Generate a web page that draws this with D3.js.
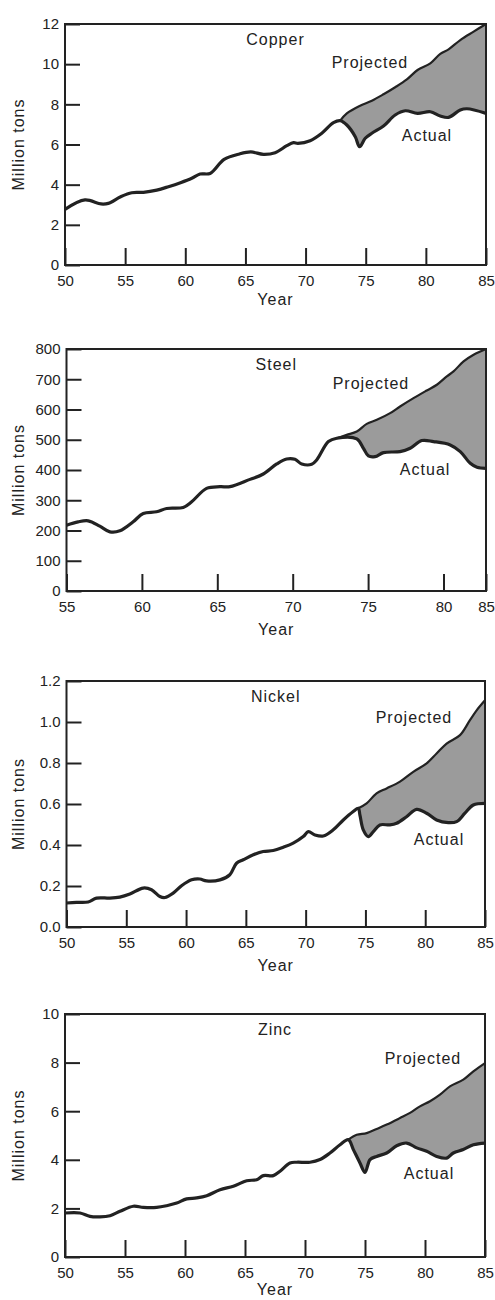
<!DOCTYPE html>
<html>
<head>
<meta charset="utf-8">
<script src="https://cdn.jsdelivr.net/npm/d3@7/dist/d3.min.js"></script>
<style>
  body { margin: 0; background: #fff; }
  svg text { font-family: "Liberation Sans", Arial, Helvetica, sans-serif; fill: #222; }
</style>
</head>
<body>
<svg id="chart" width="495" height="1300"></svg>
<script>
// [year, million tons]
var copperActual = [[50.0,2.77],[51.66,3.24],[53.0,3.04],[53.6,3.07],[54.63,3.40],[55.55,3.60],[56.52,3.62],[57.63,3.73],[58.6,3.90],[59.6,4.10],[60.54,4.32],[61.23,4.53],[62.06,4.56],[63.23,5.26],[64.5,5.53],[65.45,5.63],[66.5,5.51],[67.47,5.59],[68.44,5.94],[69.0,6.09],[69.36,6.06],[70.38,6.19],[71.35,6.56],[72.32,7.09],[72.88,7.19],[73.43,6.97],[74.13,6.39],[74.49,5.89],[74.96,6.31],[75.51,6.56],[76.48,6.92],[77.45,7.47],[78.29,7.68],[79.31,7.55],[80.37,7.63],[81.2,7.42],[81.89,7.35],[82.86,7.72],[83.42,7.78],[85.0,7.55]];
var copperProjected = [[72.88,7.19],[73.43,7.55],[74.49,7.92],[75.51,8.18],[76.48,8.50],[77.45,8.85],[78.42,9.24],[79.31,9.71],[80.37,10.04],[81.2,10.51],[81.89,10.74],[82.86,11.20],[83.97,11.62],[85.0,12.0]];

var steelActual = [[55.0,217.7],[55.77,228.7],[56.44,232],[57.21,214.4],[57.88,195.6],[58.54,198.9],[59.42,228.7],[60.09,256.4],[60.97,261.9],[61.64,272.9],[62.74,276.3],[63.30,295],[64.29,339.2],[65.18,344.8],[65.84,344.8],[67.17,369],[68.05,386.8],[68.94,419.9],[69.60,436.5],[70.15,435.4],[70.60,419.9],[71.26,418.8],[71.59,433.2],[72.37,493.9],[72.92,505],[74.25,502.8],[74.69,471.8],[75.02,446.4],[75.46,444.2],[76.02,457.5],[77.12,460.8],[77.79,471.8],[78.56,497.3],[79.34,493.9],[80.79,482.9],[81.97,460.8],[83.15,422.1],[83.94,408.9],[85.0,405.5]];
var steelProjected = [[72.92,505],[73.58,516],[74.25,527],[74.91,552.5],[75.58,565.8],[76.46,587.9],[77.12,610],[78.01,637.6],[78.89,663],[79.56,681.8],[80.39,709.4],[81.18,726],[82.36,759.1],[83.54,781.2],[85.0,800]];

var nickelActual = [[50.0,0.117],[50.84,0.120],[51.81,0.122],[52.51,0.141],[53.63,0.141],[54.46,0.146],[55.30,0.161],[56.41,0.190],[57.11,0.182],[57.81,0.149],[58.23,0.144],[58.92,0.165],[59.62,0.201],[60.46,0.230],[61.15,0.234],[61.71,0.225],[62.83,0.230],[63.66,0.255],[64.22,0.311],[64.78,0.328],[65.62,0.352],[66.45,0.368],[67.29,0.373],[68.13,0.389],[68.96,0.409],[69.80,0.441],[70.22,0.465],[70.78,0.449],[71.47,0.444],[72.31,0.474],[73.15,0.522],[73.98,0.563],[74.40,0.579],[74.54,0.546],[74.82,0.474],[75.24,0.441],[75.66,0.465],[76.21,0.498],[77.05,0.498],[77.61,0.506],[78.44,0.538],[79.28,0.574],[80.12,0.555],[80.95,0.522],[81.93,0.509],[82.63,0.514],[83.32,0.555],[84.02,0.595],[85.0,0.603]];
var nickelProjected = [[74.40,0.579],[75.10,0.603],[75.93,0.652],[76.77,0.676],[77.89,0.709],[79.0,0.757],[80.12,0.798],[80.95,0.846],[81.79,0.895],[82.91,0.936],[83.74,1.009],[84.30,1.057],[85.0,1.106]];

var zincActual = [[50.0,1.81],[51.25,1.81],[52.08,1.67],[52.92,1.65],[53.75,1.70],[54.58,1.88],[55.69,2.09],[56.53,2.04],[57.64,2.04],[58.47,2.11],[59.31,2.22],[60.14,2.39],[60.97,2.43],[61.81,2.52],[62.92,2.77],[64.03,2.91],[65.14,3.14],[65.97,3.18],[66.53,3.35],[67.36,3.35],[67.92,3.53],[68.75,3.87],[69.31,3.90],[70.42,3.90],[71.25,4.01],[72.08,4.28],[72.92,4.62],[73.61,4.83],[74.03,4.42],[74.58,3.87],[75.0,3.48],[75.42,4.01],[75.97,4.14],[76.81,4.28],[77.64,4.58],[78.47,4.69],[79.31,4.49],[80.14,4.35],[80.97,4.14],[81.81,4.07],[82.36,4.28],[83.19,4.42],[84.03,4.62],[85.0,4.69]];
var zincProjected = [[73.61,4.83],[74.31,5.03],[75.14,5.10],[75.97,5.27],[76.81,5.45],[77.92,5.72],[78.75,5.93],[79.58,6.20],[80.42,6.41],[81.25,6.68],[82.08,7.02],[83.19,7.30],[84.03,7.64],[85.0,7.98]];

// tick labels
var yearTicks = [50, 55, 60, 65, 70, 75, 80, 85];
var steelYearTicks = [55, 60, 65, 70, 75, 80, 85];
var copperTicks = [0, 2, 4, 6, 8, 10, 12];
var steelTicks = [0, 100, 200, 300, 400, 500, 600, 700, 800];
var nickelTicks = [0, 0.2, 0.4, 0.6, 0.8, 1.0, 1.2];
var zincTicks = [0, 2, 4, 6, 8, 10];

// layout of the four stacked panels
var panels = [
  { name: 'Copper', actual: copperActual, projected: copperProjected,
    top: 24, bottom: 265, xDomain: [50, 85], xRange: [65, 486], yearGap: 34,
    xTicks: yearTicks, yTicks: copperTicks, yFmt: d3.format('d'),
    projAt: [75.35, 10.11], actAt: [80.09, 6.47] },
  { name: 'Steel', actual: steelActual, projected: steelProjected,
    top: 349, bottom: 591, xDomain: [55, 80, 85], xRange: [66.5, 443.5, 486], yearGap: 38,
    xTicks: steelYearTicks, yTicks: steelTicks, yFmt: d3.format('d'),
    projAt: [75.19, 687], actAt: [78.78, 402] },
  { name: 'Nickel', actual: nickelActual, projected: nickelProjected,
    top: 681, bottom: 927, xDomain: [50, 85], xRange: [66.5, 485], yearGap: 38,
    xTicks: yearTicks, yTicks: nickelTicks, yFmt: d3.format('.1f'),
    projAt: [79.06, 1.022], actAt: [81.15, 0.425] },
  { name: 'Zinc', actual: zincActual, projected: zincProjected,
    top: 1014, bottom: 1257, xDomain: [50, 85], xRange: [65, 485], yearGap: 32,
    xTicks: yearTicks, yTicks: zincTicks, yFmt: d3.format('d'),
    projAt: [79.83, 8.19], actAt: [80.33, 3.43] }
];

var svg = d3.select('#chart');
var ink = '#222';

panels.forEach(function (p) {
  var g = svg.append('g');
  var left = p.xRange[0], right = p.xRange[p.xRange.length - 1];
  var x = d3.scaleLinear().domain(p.xDomain).range(p.xRange);
  var y = d3.scaleLinear().domain([0, p.yTicks[p.yTicks.length - 1]]).range([p.bottom, p.top]);

  var line = d3.line()
    .x(function (d) { return x(d[0]); })
    .y(function (d) { return y(d[1]); })
    .curve(d3.curveCatmullRom.alpha(0.5));

  // shaded gap: projected forward, actual back
  var from = p.projected[0][0];
  var under = p.actual.filter(function (d) { return d[0] >= from; }).reverse();
  g.append('path')
    .attr('d', line(p.projected) + line(under).replace(/^M/, 'L') + 'Z')
    .attr('fill', '#9b9b9b');

  // frame
  g.append('rect')
    .attr('x', left).attr('y', p.top)
    .attr('width', right - left).attr('height', p.bottom - p.top)
    .attr('fill', 'none').attr('stroke', ink).attr('stroke-width', 2);

  // axes, ticks pointing into the plot
  var yAxis = d3.axisLeft(y).tickValues(p.yTicks).tickFormat(p.yFmt)
    .tickSizeInner(-15).tickSizeOuter(0).tickPadding(6);
  var ya = g.append('g').attr('transform', 'translate(' + left + ',0)').call(yAxis);
  ya.select('.domain').remove();

  var xAxis = d3.axisBottom(x).tickValues(p.xTicks).tickFormat(d3.format('d'))
    .tickSizeInner(-17).tickSizeOuter(0).tickPadding(10);
  var xa = g.append('g').attr('transform', 'translate(0,' + p.bottom + ')').call(xAxis);
  xa.select('.domain').remove();

  [ya, xa].forEach(function (a) {
    a.attr('font-family', null).attr('font-size', null);
    a.selectAll('line').attr('stroke', ink).attr('stroke-width', 2);
    a.selectAll('text').style('font-size', '15px').attr('fill', ink);
  });

  // series
  g.append('path').datum(p.projected).attr('d', line)
    .attr('fill', 'none').attr('stroke', ink).attr('stroke-width', 2.2)
    .attr('stroke-linejoin', 'round');
  g.append('path').datum(p.actual).attr('d', line)
    .attr('fill', 'none').attr('stroke', ink).attr('stroke-width', 3.2)
    .attr('stroke-linejoin', 'round');

  // labels
  var mid = (left + right) / 2;
  function label(tx, ty, s) {
    return g.append('text').attr('x', tx).attr('y', ty).attr('dy', '0.35em')
      .attr('text-anchor', 'middle').style('font-size', '16px')
      .style('letter-spacing', '1px').text(s);
  }
  label(mid, p.top + 15, p.name);
  label(x(p.projAt[0]), y(p.projAt[1]), 'Projected');
  label(x(p.actAt[0]), y(p.actAt[1]), 'Actual');
  label(mid, p.bottom + p.yearGap, 'Year');
  label(18, (p.top + p.bottom) / 2, 'Million tons')
    .attr('x', null).attr('y', null)
    .attr('transform', 'translate(18,' + (p.top + p.bottom) / 2 + ') rotate(-90)');
});
</script>
</body>
</html>
